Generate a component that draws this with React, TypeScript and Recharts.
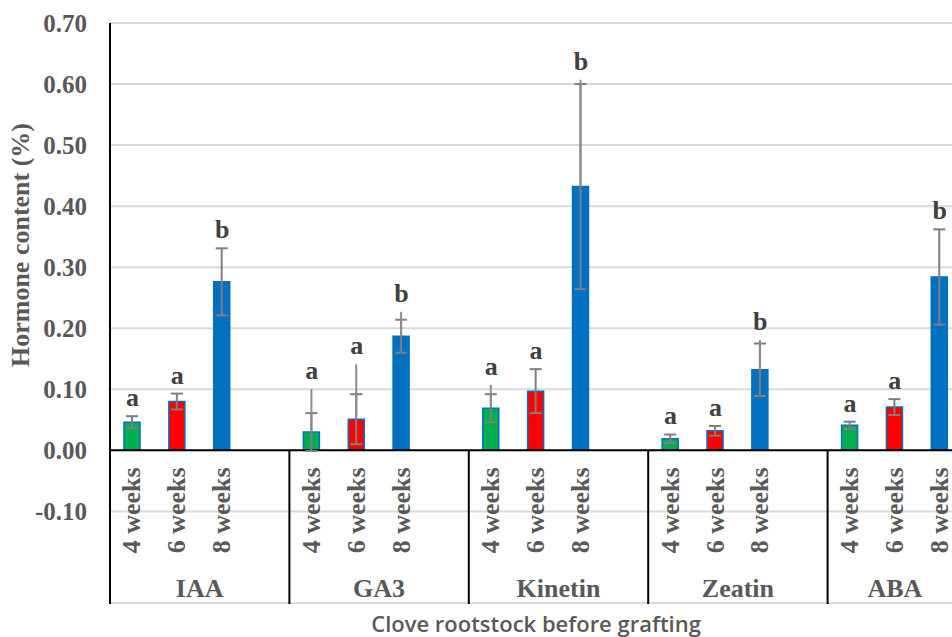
import React from 'react';
import {
  ComposedChart,
  Bar,
  Line,
  XAxis,
  YAxis,
  CartesianGrid,
  ErrorBar,
  Cell,
  LabelList,
  ReferenceLine,
  Label,
} from 'recharts';

// Hormone content (%) of clove rootstock before grafting, mean ± sd
const groups = ['IAA', 'GA3', 'Kinetin', 'Zeatin', 'ABA'];
const weeks = ['4 weeks', '6 weeks', '8 weeks'];
const weekColors = ['#00B050', '#FF0000', '#0070C0'];

const mean4 = [0.046, 0.03, 0.069, 0.019, 0.041];
const mean6 = [0.08, 0.051, 0.097, 0.032, 0.071];
const mean8 = [0.276, 0.187, 0.432, 0.132, 0.284];

const sd4 = [0.01, 0.031, 0.023, 0.007, 0.006];
const sd6 = [0.013, 0.041, 0.036, 0.008, 0.013];
const sd8 = [0.055, 0.027, 0.168, 0.043, 0.078];

// extra uncapped upper whisker on some bars (0 = none)
const whisker4 = [0, 0.07, 0.038, 0, 0];
const whisker6 = [0, 0.09, 0, 0, 0];
const whisker8 = [0, 0.04, 0.175, 0.049, 0];

const letters4 = ['a', 'a', 'a', 'a', 'a'];
const letters6 = ['a', 'a', 'a', 'a', 'a'];
const letters8 = ['b', 'b', 'b', 'b', 'b'];

const yTicks = [-0.1, 0, 0.1, 0.2, 0.3, 0.4, 0.5, 0.6, 0.7];
const Y_MIN = -0.25;
const Y_MAX = 0.7;

const means = [mean4, mean6, mean8];
const sds = [sd4, sd6, sd8];
const whiskers = [whisker4, whisker6, whisker8];
const letters = [letters4, letters6, letters8];

// 3 bars per hormone + an empty slot closing every group but the last (like the excel sheet)
const data: any[] = [];
groups.forEach((g, gi) => {
  weeks.forEach((w, wi) => {
    const m = means[wi][gi];
    const sd = sds[wi][gi];
    const wh = whiskers[wi][gi];
    data.push({
      slot: `${g}-${wi}`,
      group: g,
      pos: wi,
      week: w,
      color: weekColors[wi],
      value: m,
      sd,
      whisker: wh ? [0, wh] : null,
      letter: letters[wi][gi],
      letterAt: m + Math.max(sd, wh),
    });
  });
  if (gi < groups.length - 1) {
    data.push({ slot: `${g}-gap`, group: g, pos: 3, week: '', color: 'none', value: null, sd: null, whisker: null, letter: null, letterAt: null });
  }
});

const Y_AXIS_W = 110;
const SLOT_W = 44.85;
const M_TOP = 23;
const M_RIGHT = 3;
const CHART_W = Y_AXIS_W + SLOT_W * data.length + M_RIGHT;
const CHART_H = 637;
const X_AXIS_H = 34;
const PLOT_BOTTOM = CHART_H - X_AXIS_H;
const ZERO_Y = M_TOP + ((PLOT_BOTTOM - M_TOP) * Y_MAX) / (Y_MAX - Y_MIN);

const serif = '"Liberation Serif", "Times New Roman", serif';
const grey = '#595959';

const WeekLabel = (props: any) => {
  if (!props.value) return null;
  const vb = props.viewBox ?? props;
  const cx = vb.x + vb.width / 2;
  const ty = vb.y + vb.height + 17;
  return (
    <text
      x={cx}
      y={ty}
      transform={`rotate(-90 ${cx} ${ty})`}
      textAnchor="end"
      dominantBaseline="central"
      fill={grey}
      fontSize={26}
      fontWeight="bold"
      fontFamily={serif}
    >
      {props.value}
    </text>
  );
};

// on the first slot of each hormone: divider at its left edge, name centred over its slots
const SlotTick = (props: any) => {
  const { x, payload } = props;
  const row = data.find((d) => d.slot === payload.value);
  if (!row || row.pos !== 0) return null;
  const n = data.filter((d) => d.group === row.group).length;
  const left = x - SLOT_W / 2;
  return (
    <g>
      <line x1={left} x2={left} y1={ZERO_Y} y2={PLOT_BOTTOM + 1} stroke="#000" strokeWidth={2} />
      <text x={left + (n * SLOT_W) / 2} y={PLOT_BOTTOM - 6} textAnchor="middle" fill={grey} fontSize={26} fontWeight="bold" fontFamily={serif}>
        {row.group}
      </text>
    </g>
  );
};

const renderYTitle = () => (
  <text
    x={21}
    y={245}
    transform="rotate(-90 21 245)"
    textAnchor="middle"
    dominantBaseline="central"
    fill={grey}
    fontSize={26}
    fontWeight="bold"
    fontFamily={serif}
  >
    Hormone content (%)
  </text>
);

const renderXTitle = (props: any) => {
  const vb = props.viewBox ?? {};
  const cx = (vb.x ?? Y_AXIS_W) + (vb.width ?? SLOT_W * data.length) / 2;
  return (
    <text x={cx} y={632} textAnchor="middle" fill={grey} fontSize={22} fontWeight={600} fontFamily="'Open Sans', 'Noto Sans', sans-serif">
      Clove rootstock  before grafting
    </text>
  );
};

export default function App() {
  return (
    <div style={{ position: 'absolute', left: 0, top: 0, width: 952, height: 637, overflow: 'hidden', background: '#fff' }}>
      <ComposedChart
        width={CHART_W}
        height={CHART_H}
        data={data}
        margin={{ top: M_TOP, right: M_RIGHT, left: 0, bottom: 0 }}
      >
        <CartesianGrid vertical={false} stroke="#d9d9d9" strokeWidth={2} />
        <XAxis
          dataKey="slot"
          height={X_AXIS_H}
          interval={0}
          tickLine={false}
          axisLine={false}
          tick={<SlotTick />}
        >
          <Label content={renderXTitle} />
        </XAxis>
        <YAxis
          width={Y_AXIS_W}
          domain={[Y_MIN, Y_MAX]}
          ticks={yTicks}
          tickFormatter={(v: number) => v.toFixed(2)}
          tickSize={0}
          tickMargin={23}
          tickLine={false}
          axisLine={{ stroke: '#000', strokeWidth: 2 }}
          tick={{ fill: grey, fontSize: 25, fontWeight: 'bold', fontFamily: serif }}
        >
          <Label content={renderYTitle} />
        </YAxis>
        <ReferenceLine y={0} stroke="#000" strokeWidth={2} />
        <Bar dataKey="value" barSize={16} stroke="#0070C0" strokeWidth={1.5} isAnimationActive={false}>
          {data.map((d) => (
            <Cell key={d.slot} fill={d.color} />
          ))}
          <ErrorBar dataKey="sd" width={6} stroke="#7f7f7f" strokeWidth={2} direction="y" />
          <ErrorBar dataKey="whisker" width={0} stroke="#8c8c8c" strokeWidth={2} direction="y" />
          <LabelList dataKey="week" content={WeekLabel} />
        </Bar>
        <Line
          dataKey="letterAt"
          stroke="none"
          dot={false}
          activeDot={false}
          legendType="none"
          isAnimationActive={false}
        >
          <LabelList
            dataKey="letter"
            position="top"
            offset={10}
            fill="#404040"
            fontSize={26}
            fontWeight="bold"
            fontFamily={serif}
          />
        </Line>
      </ComposedChart>
    </div>
  );
}
